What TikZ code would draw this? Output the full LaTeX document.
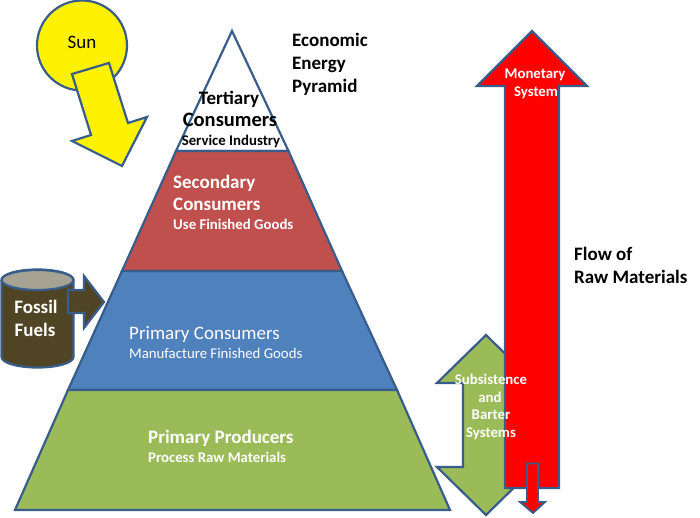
\documentclass[tikz,border=0pt]{standalone}
\usepackage{fontspec}
\setmainfont{Carlito}
\definecolor{edge}{HTML}{385D8A}
\definecolor{pyrred}{HTML}{C0504D}
\definecolor{pyrblue}{HTML}{4F81BD}
\definecolor{pyrgreen}{HTML}{9BBB59}
\definecolor{oilbody}{HTML}{4F4525}
\definecolor{oiltop}{HTML}{A7A394}
\tikzset{
  shapeline/.style={draw=edge,line width=2.2pt,line join=miter,miter limit=10},
  title/.style={font=\fontsize{19}{21}\selectfont\bfseries,anchor=base west,inner sep=0pt},
  big/.style={font=\fontsize{19}{21}\selectfont\bfseries,inner sep=0pt,anchor=base},
  small/.style={font=\fontsize{14.8}{17}\selectfont\bfseries,inner sep=0pt,anchor=base},
}
\begin{document}
\begin{tikzpicture}[x=1pt,y=-1pt]
\useasboundingbox (0,0) rectangle (700,517);
% sun
\node[circle,shapeline,fill=yellow,minimum size=90pt,inner sep=0pt] (sun) at (82,45.5) {};
\draw[shapeline,fill=yellow] (72,74)--(109,63)--(128,123)--(147,117)--(122,166)--(72,141)--(91,135)--cycle;
\node[font=\fontsize{19}{21}\selectfont,inner sep=0pt,anchor=base] (sunlabel) at (82,48) {Sun};
% pyramid
\draw[shapeline,fill=white] (232,31)--(176,151)--(288.5,151)--cycle;
\draw[shapeline,fill=pyrred] (176,151)--(288.5,151)--(342,271)--(122,271)--cycle;
\draw[shapeline,fill=pyrblue] (122,271)--(342,271)--(397,390)--(68,390)--cycle;
\draw[shapeline,fill=pyrgreen] (68,390)--(397,390)--(450,510)--(15,510)--cycle;
% fossil fuels
\draw[shapeline,fill=oilbody] (1.5,280) -- (1.5,357) arc[start angle=180,end angle=0,x radius=36,y radius=10.5] -- (73.5,280) arc[start angle=0,end angle=-180,x radius=36,y radius=10.5];
\draw[shapeline,fill=oiltop] (37.5,280) ellipse[x radius=36,y radius=10];
\draw[shapeline,fill=oilbody] (68,290)--(84,290)--(84,276)--(104,302)--(84,328)--(84,313)--(68,313)--cycle;
% arrows on the right
\draw[shapeline,fill=pyrgreen] (486,335)--(535,383)--(510,383)--(510,467)--(535,467)--(486,515)--(437,467)--(463,467)--(463,383)--(437,383)--cycle;
\draw[shapeline,fill=red] (532,31)--(587,86)--(559,86)--(559,488)--(505,488)--(505,86)--(477,86)--cycle;
\draw[shapeline,line width=1.8pt,fill=red] (527,463.5)--(538,463.5)--(538,502)--(545,502)--(533,513)--(520,502)--(527,502)--cycle;
% labels
\node[title] (econ) at (292,46) {Economic};
\node[title] (energy) at (292,69) {Energy};
\node[title] (pyr) at (292,92) {Pyramid};
\node[big] (t1) at (229,104) {Tertiary};
\node[big,font=\fontsize{20.5}{23}\selectfont\bfseries] (t2) at (230,126) {Consumers};
\node[small] (t3) at (231,145) {Service Industry};
\node[big,text=white,anchor=base west] (s1) at (173,188) {Secondary};
\node[big,text=white,anchor=base west] (s2) at (173,210) {Consumers};
\node[small,text=white,anchor=base west] (s3) at (173,229) {Use Finished Goods};
\node[font=\fontsize{19}{21}\selectfont,text=white,inner sep=0pt,anchor=base west] (c1) at (129,339) {Primary Consumers};
\node[font=\fontsize{14.8}{17}\selectfont,text=white,inner sep=0pt,anchor=base west] (c2) at (129,358) {Manufacture Finished Goods};
\node[big,text=white,anchor=base west] (p1) at (148,443) {Primary Producers};
\node[small,text=white,anchor=base west] (p2) at (148,462) {Process Raw Materials};
\node[big,text=white] (fos2) at (36,313) {Fossil};
\node[big,text=white] (fos3) at (35,336) {Fuels};
\node[small,text=white] (m1) at (535,78) {Monetary};
\node[small,text=white] (m2) at (536,96) {System};
\node[small,text=white] (b1) at (491,384) {Subsistence};
\node[small,text=white] (b2) at (490,402) {and};
\node[small,text=white] (b3) at (491,419) {Barter};
\node[small,text=white] (b4) at (491,437) {Systems};
\node[title] (flow1) at (574,260) {Flow of};
\node[title] (flow2) at (574,283) {Raw Materials};
\end{tikzpicture}
\end{document}
